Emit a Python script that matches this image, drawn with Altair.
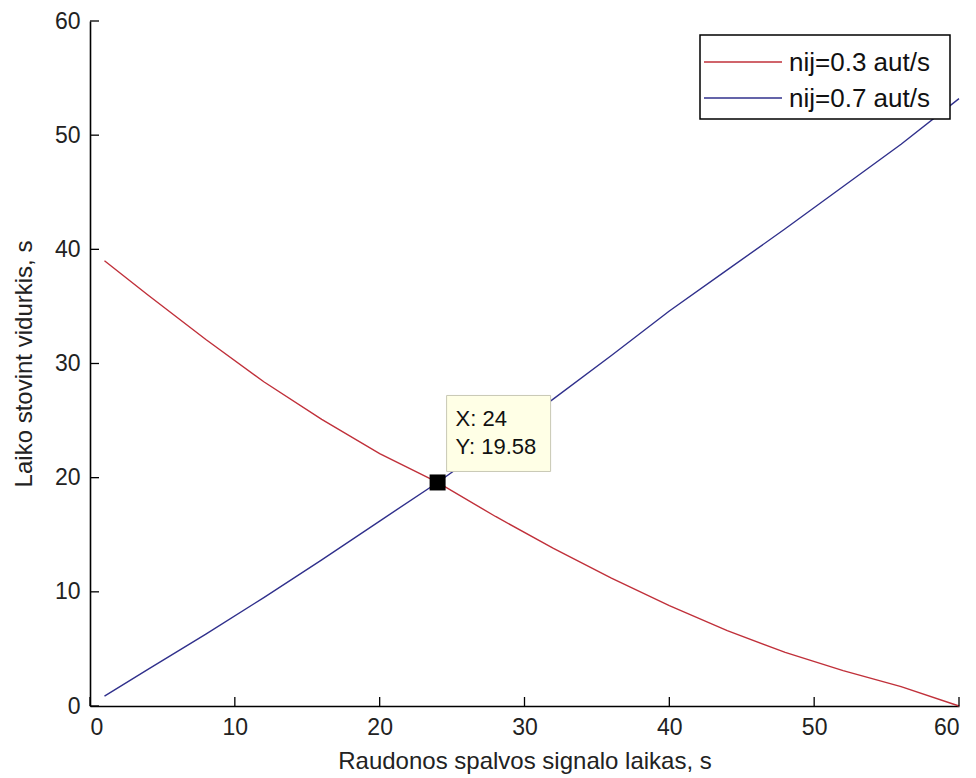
import altair as alt
import pandas as pd

# ---- data ----
x_vals = [1, 4, 8, 12, 16, 20, 24, 28, 32, 36, 40, 44, 48, 52, 56, 60]
red_y = [39.0, 36.0, 32.1, 28.4, 25.1, 22.1, 19.58, 16.6, 13.8, 11.2, 8.8, 6.6, 4.7, 3.1, 1.7, 0.0]
blue_y = [0.86, 3.2, 6.3, 9.5, 12.8, 16.2, 19.58, 23.2, 26.9, 30.7, 34.6, 38.2, 41.8, 45.5, 49.2, 53.2]
series_names = ["nij=0.3 aut/s", "nij=0.7 aut/s"]
series_colors = ["#c0303a", "#30308c"]
x_ticks = [0, 10, 20, 30, 40, 50, 60]
y_ticks = [0, 10, 20, 30, 40, 50, 60]
tip_x = [24]
tip_y = [19.58]
x_title = "Raudonos spalvos signalo laikas, s"
y_title = "Laiko stovint vidurkis, s"

W, H = 869, 685
FONT = "Liberation Sans"

df = pd.DataFrame({
    "x": x_vals + x_vals,
    "y": red_y + blue_y,
    "series": [series_names[0]] * len(x_vals) + [series_names[1]] * len(x_vals),
})

xscale = alt.Scale(domain=[0, 60], nice=False)
yscale = alt.Scale(domain=[0, 60], nice=False)

xaxis = alt.Axis(
    values=x_ticks, title=x_title, grid=False, ticks=False,
    domainColor="black", domainWidth=1.6, labelFontSize=23, labelFont=FONT,
    labelColor="#222222", labelPadding=10, titleFontSize=24, titleFont=FONT,
    titleFontWeight="normal", titleColor="#222222", titlePadding=10)
yaxis = alt.Axis(
    values=y_ticks, title=y_title, grid=False, ticks=False,
    domainColor="black", domainWidth=1.6, labelFontSize=23, labelFont=FONT,
    labelColor="#222222", labelPadding=10, titleFontSize=24, titleFont=FONT,
    titleFontWeight="normal", titleColor="#222222", titlePadding=18)


def X(f):
    return alt.X(f, scale=xscale, axis=xaxis)


def Y(f):
    return alt.Y(f, scale=yscale, axis=yaxis)


lines = alt.Chart(df).mark_line(strokeWidth=1.4).encode(
    x=X("x:Q"), y=Y("y:Q"),
    color=alt.Color("series:N", scale=alt.Scale(domain=series_names, range=series_colors), legend=None),
)

xt = alt.Chart(pd.DataFrame({"t": x_ticks})).mark_rule(color="black", strokeWidth=1.3).encode(
    x=X("t:Q"), y=alt.value(H), y2=alt.value(H - 9))
yt = alt.Chart(pd.DataFrame({"t": y_ticks})).mark_rule(color="black", strokeWidth=1.3).encode(
    y=Y("t:Q"), x=alt.value(0), x2=alt.value(9))

tip_df = pd.DataFrame({"x": tip_x, "y": tip_y,
                       "l1": [f"X: {tip_x[0]}"], "l2": [f"Y: {tip_y[0]:.2f}"]})
tip_box = alt.Chart(tip_df).mark_rect(
    fill="#ffffe6", stroke="#c8c8b4", strokeWidth=1,
    xOffset=9, x2Offset=113, yOffset=-87, y2Offset=-11).encode(
    x=X("x:Q"), x2="x:Q", y=Y("y:Q"), y2="y:Q")
tip_t1 = alt.Chart(tip_df).mark_text(align="left", baseline="alphabetic", dx=18, dy=-56,
                                     fontSize=22, font=FONT, color="#111111").encode(
    x=X("x:Q"), y=Y("y:Q"), text="l1:N")
tip_t2 = alt.Chart(tip_df).mark_text(align="left", baseline="alphabetic", dx=18, dy=-28,
                                     fontSize=22, font=FONT, color="#111111").encode(
    x=X("x:Q"), y=Y("y:Q"), text="l2:N")
tip_pt = alt.Chart(tip_df).mark_square(size=256, color="black", opacity=1, filled=True).encode(
    x=X("x:Q"), y=Y("y:Q"))

one = pd.DataFrame({"a": [0]})
leg_box = alt.Chart(one).mark_rect(fill="white", stroke="black", strokeWidth=1.5).encode(
    x=alt.value(610), x2=alt.value(860), y=alt.value(14), y2=alt.value(98))
leg_layers = []
for i, (nm, col) in enumerate(zip(series_names, series_colors)):
    yy = 41 + 36 * i
    leg_layers.append(alt.Chart(one).mark_rule(color=col, strokeWidth=1.4).encode(
        x=alt.value(614), x2=alt.value(692), y=alt.value(yy)))
    leg_layers.append(alt.Chart(one).mark_text(align="left", baseline="middle", fontSize=26,
                                               font=FONT, color="#111111").encode(
        x=alt.value(699), y=alt.value(yy + 1), text=alt.value(nm)))

chart = alt.layer(lines, xt, yt, tip_box, tip_t1, tip_t2, tip_pt, leg_box, *leg_layers).properties(
    width=W, height=H,
    autosize=alt.AutoSizeParams(type="none"),
    padding={"left": 90, "top": 21, "right": 17, "bottom": 72},
    background="white",
).configure_view(stroke="transparent")

chart.save("out.html", embed_options={"renderer": "svg", "actions": False})
